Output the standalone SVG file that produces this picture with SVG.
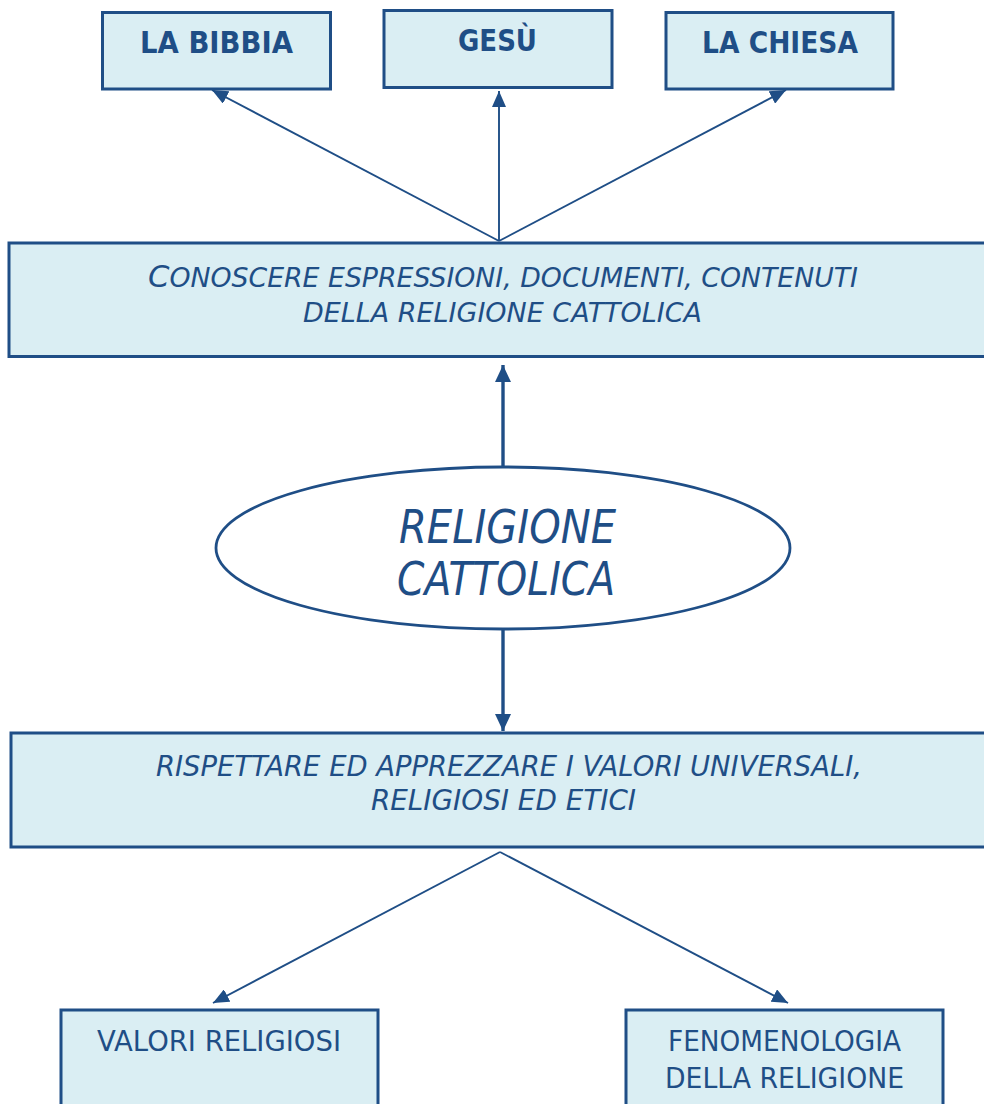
<svg xmlns="http://www.w3.org/2000/svg" width="984" height="1104" viewBox="0 0 984 1104">
<style>
.box{fill:#DAEEF3;stroke:#1F4E86;stroke-width:3}
.ell{fill:#FFFFFF;stroke:#1F4E86;stroke-width:2.8}
.t{font-family:"DejaVu Sans","Liberation Sans",sans-serif;fill:#1F4E86;text-anchor:start}
.b{font-weight:bold;font-size:31px}
.i{font-style:italic}
.thin{stroke:#1F4E86;stroke-width:1.9;fill:none}
.thick{stroke:#1F4E86;stroke-width:3.4;fill:none}
</style>
<defs>
<marker id="ah" markerUnits="userSpaceOnUse" viewBox="0 0 16 14" markerWidth="16" markerHeight="14" refX="16" refY="7" orient="auto">
<path d="M0,0 L16,7 L0,14 z" fill="#1F4E86"/>
</marker>
<marker id="ahT" markerUnits="userSpaceOnUse" viewBox="0 0 17 16" markerWidth="17" markerHeight="16" refX="17" refY="8" orient="auto">
<path d="M0,0 L17,8 L0,16 z" fill="#1F4E86"/>
</marker>
</defs>
<rect width="984" height="1104" fill="#FFFFFF"/>
<g id="connectors">
<line class="thin" x1="499" y1="241" x2="212" y2="90" marker-end="url(#ah)"/>
<line class="thin" x1="499" y1="241" x2="499" y2="91" marker-end="url(#ah)"/>
<line class="thin" x1="499" y1="241" x2="786" y2="90" marker-end="url(#ah)"/>
<line class="thick" x1="503" y1="467" x2="503" y2="365" marker-end="url(#ahT)"/>
<line class="thick" x1="503" y1="629" x2="503" y2="731" marker-end="url(#ahT)"/>
<line class="thin" x1="500" y1="852" x2="213" y2="1003" marker-end="url(#ah)"/>
<line class="thin" x1="500" y1="852" x2="788" y2="1003" marker-end="url(#ah)"/>
</g>
<g id="bibbia">
<rect class="box" x="102.5" y="12.5" width="228" height="76.5"/>
<text class="t b" x="140" y="53" textLength="153" lengthAdjust="spacingAndGlyphs">LA BIBBIA</text>
</g>
<g id="gesu">
<rect class="box" x="384" y="10.5" width="228" height="77"/>
<text class="t b" x="458" y="51" textLength="79" lengthAdjust="spacingAndGlyphs">GESÙ</text>
</g>
<g id="chiesa">
<rect class="box" x="666" y="12.5" width="227" height="76.5"/>
<text class="t b" x="702" y="53" textLength="156" lengthAdjust="spacingAndGlyphs">LA CHIESA</text>
</g>
<g id="conoscere">
<rect class="box" x="9" y="243" width="990" height="113.5"/>
<text class="t i" x="148" y="287" font-size="27" textLength="710" lengthAdjust="spacingAndGlyphs"><tspan font-size="31">C</tspan>ONOSCERE ESPRESSIONI, DOCUMENTI, CONTENUTI</text>
<text class="t i" x="303" y="322" font-size="27" textLength="399" lengthAdjust="spacingAndGlyphs">DELLA RELIGIONE CATTOLICA</text>
</g>
<g id="religione">
<ellipse class="ell" cx="503" cy="548" rx="287" ry="81"/>
<text class="t i" x="399" y="543" font-size="46" textLength="217" lengthAdjust="spacingAndGlyphs">RELIGIONE</text>
<text class="t i" x="397" y="595" font-size="46" textLength="218" lengthAdjust="spacingAndGlyphs">CATTOLICA</text>
</g>
<g id="rispettare">
<rect class="box" x="11" y="733" width="990" height="114"/>
<text class="t i" x="156" y="776" font-size="28" textLength="706" lengthAdjust="spacingAndGlyphs">RISPETTARE ED APPREZZARE I VALORI UNIVERSALI,</text>
<text class="t i" x="371" y="810" font-size="28" textLength="265" lengthAdjust="spacingAndGlyphs">RELIGIOSI ED ETICI</text>
</g>
<g id="valori">
<rect class="box" x="61" y="1010" width="317" height="110"/>
<text class="t" x="97" y="1051" font-size="28" textLength="244" lengthAdjust="spacingAndGlyphs">VALORI RELIGIOSI</text>
</g>
<g id="fenomenologia">
<rect class="box" x="626" y="1010" width="317" height="110"/>
<text class="t" x="668" y="1051" font-size="28" textLength="233" lengthAdjust="spacingAndGlyphs">FENOMENOLOGIA</text>
<text class="t" x="665" y="1088" font-size="28" textLength="239" lengthAdjust="spacingAndGlyphs">DELLA RELIGIONE</text>
</g>
</svg>
